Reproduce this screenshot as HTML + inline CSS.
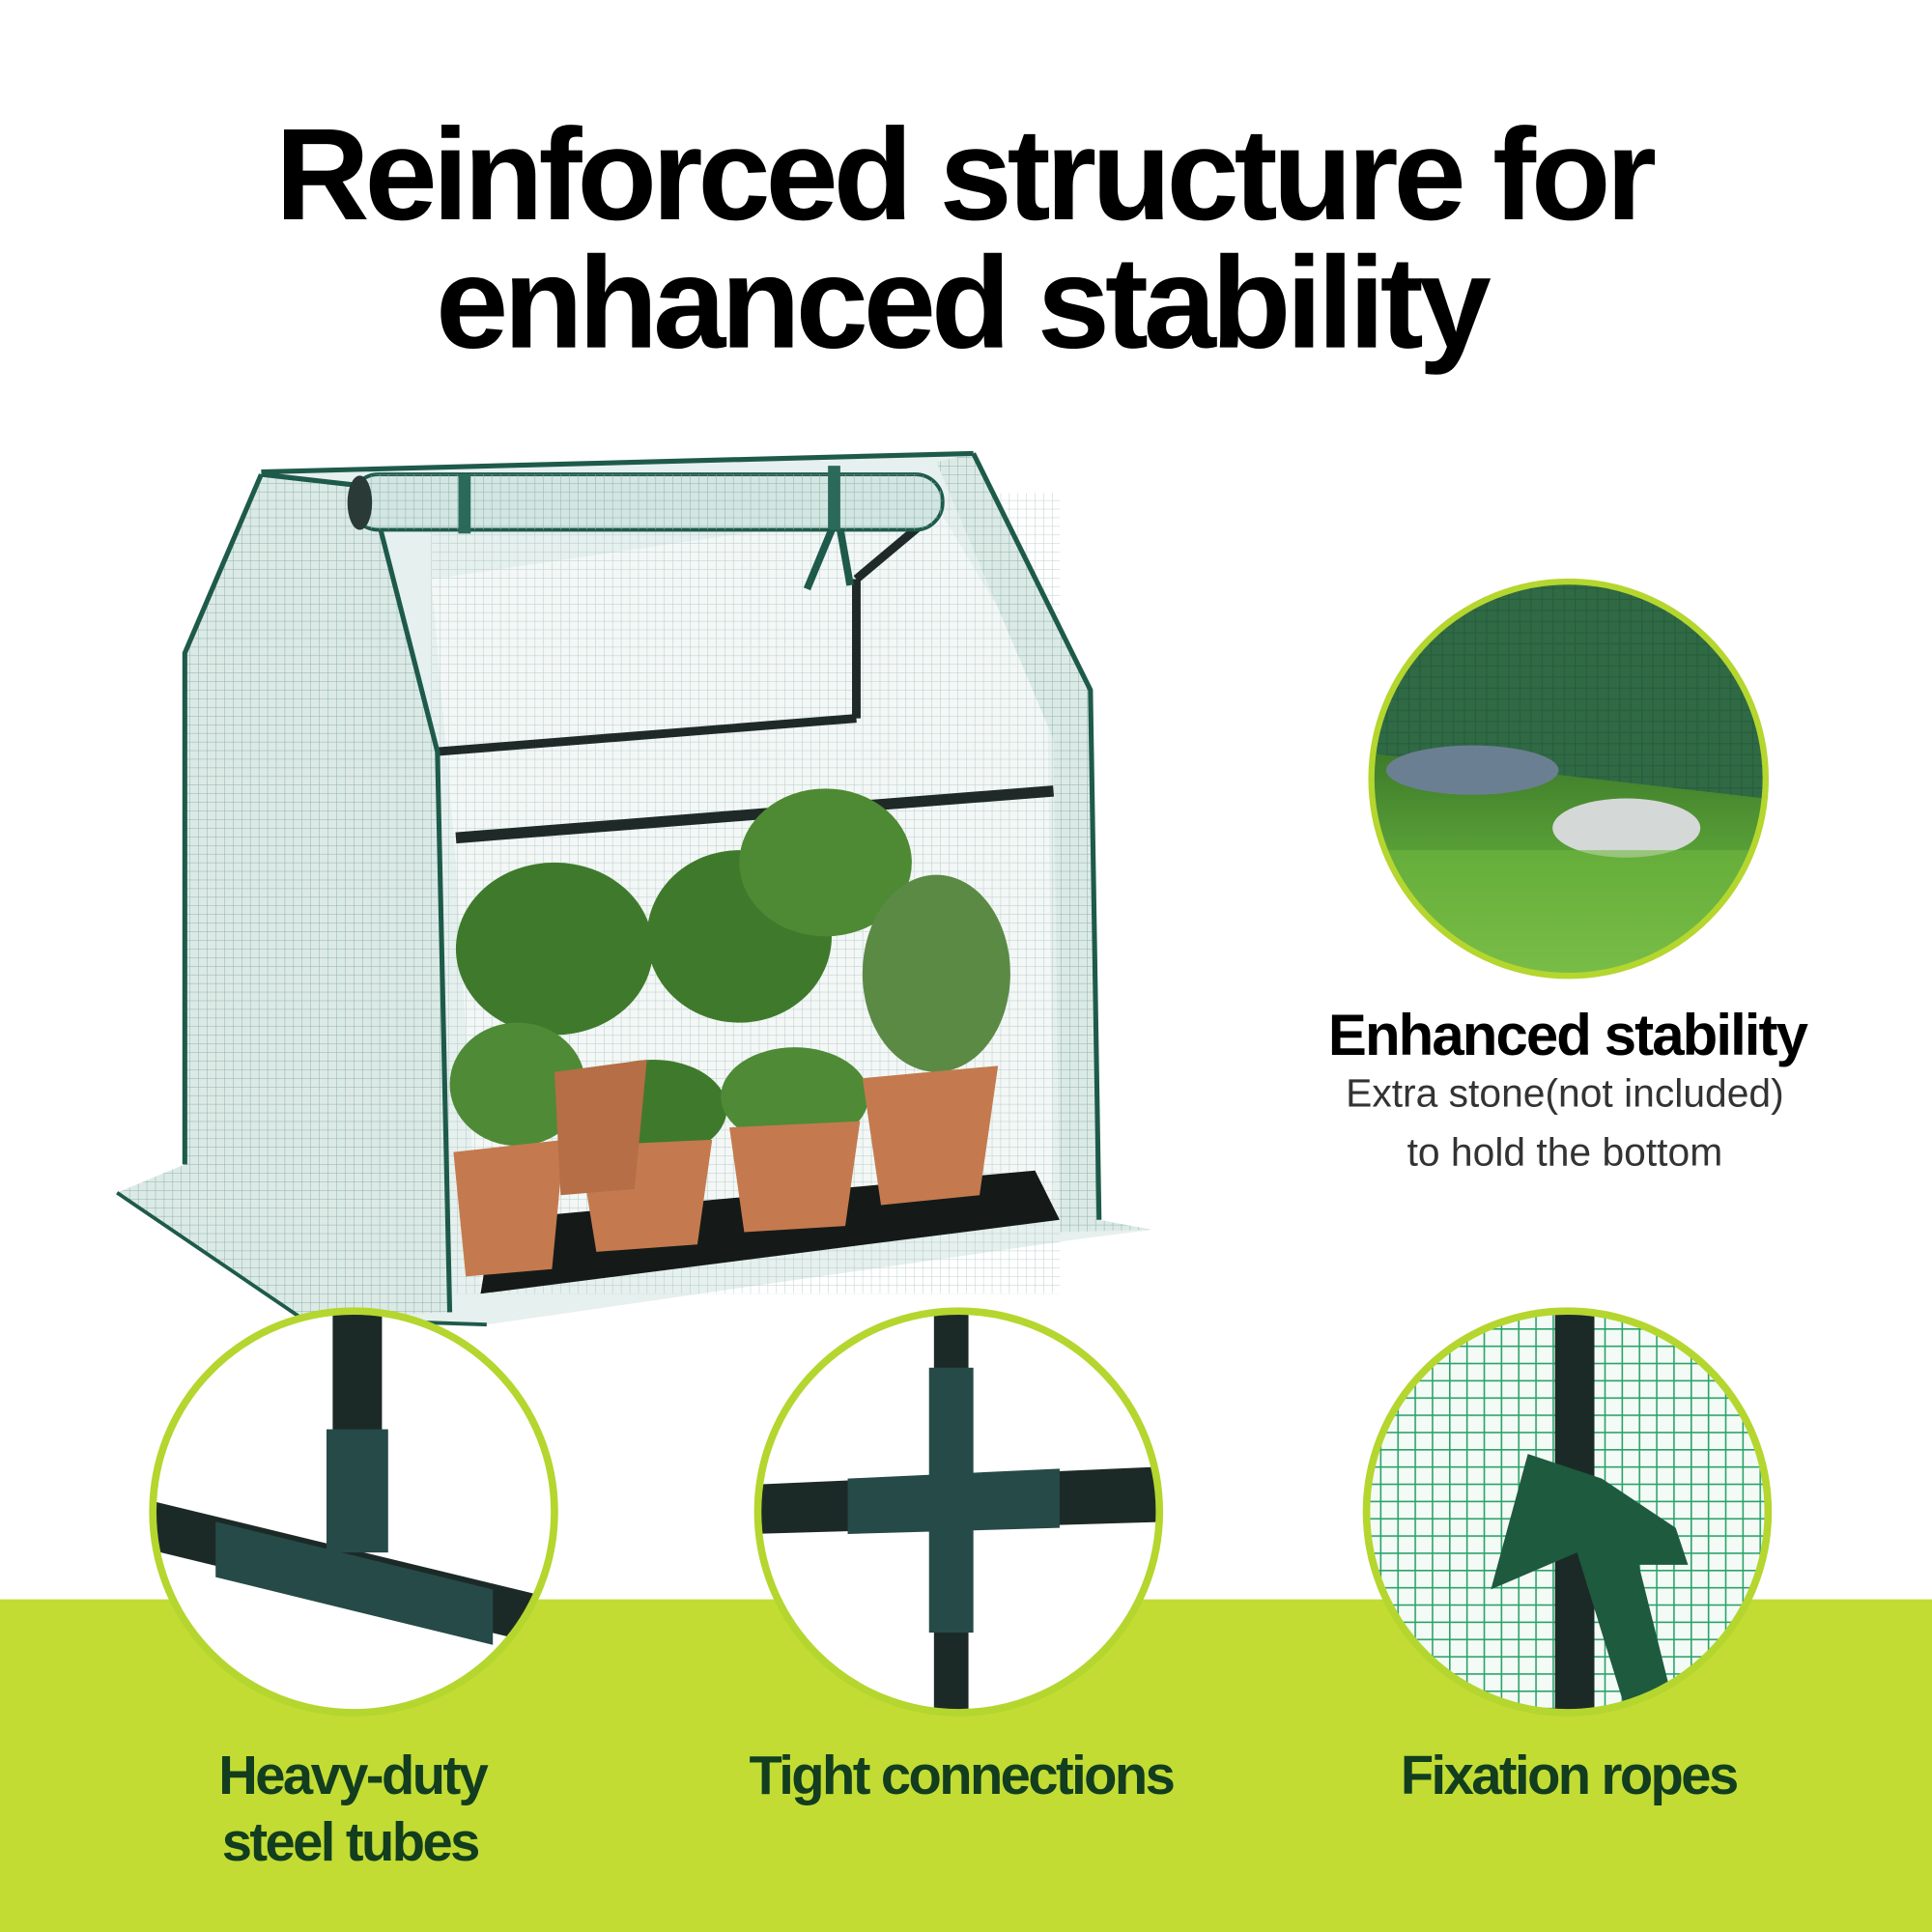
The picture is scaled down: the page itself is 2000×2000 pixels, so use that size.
<!DOCTYPE html>
<html><head><meta charset="utf-8"><style>
html,body{margin:0;padding:0;background:#fff}
svg{display:block}
</style></head><body>
<svg width="2000" height="2000" viewBox="0 0 1568 1568" xmlns="http://www.w3.org/2000/svg">
<defs>
<pattern id="mesh" width="7" height="7" patternUnits="userSpaceOnUse">
<rect width="7" height="7" fill="none"/><path d="M0 0H7M0 0V7" stroke="#8fb3ad" stroke-width="0.8"/>
</pattern>
<pattern id="gmesh" width="14" height="14" patternUnits="userSpaceOnUse">
<rect width="14" height="14" fill="#f4faf6"/><path d="M0 0H14M0 0V14" stroke="#2aa36a" stroke-width="2.5"/>
</pattern>
<pattern id="dmesh" width="9" height="9" patternUnits="userSpaceOnUse">
<rect width="9" height="9" fill="#2f6a45"/><path d="M0 0H9M0 0V9" stroke="#285e3c" stroke-width="2"/>
</pattern>
<linearGradient id="grass" x1="0" y1="0" x2="0" y2="1">
<stop offset="0" stop-color="#3d7a2a"/><stop offset="0.5" stop-color="#5fa83a"/><stop offset="1" stop-color="#8ecb5a"/>
</linearGradient>
<clipPath id="c1"><circle cx="1273" cy="632" r="158"/></clipPath>
<clipPath id="c2"><circle cx="287" cy="1227" r="162"/></clipPath>
<clipPath id="c3"><circle cx="778" cy="1227" r="162"/></clipPath>
<clipPath id="c4"><circle cx="1272" cy="1227" r="162"/></clipPath>
</defs>

<rect x="0" y="1298" width="1568" height="270" fill="#c2dc34"/>

<text x="782" y="178" text-anchor="middle" font-family="Liberation Sans, sans-serif" font-weight="bold" font-size="106" letter-spacing="-4" fill="#000">Reinforced structure for</text>
<text x="780" y="282" text-anchor="middle" font-family="Liberation Sans, sans-serif" font-weight="bold" font-size="106" letter-spacing="-4" fill="#000">enhanced stability</text>

<g>
<polygon points="95,968 150,945 150,530 212,385 790,368 885,560 892,990 935,998 880,1005 395,1075 245,1070" fill="#e6f0ee"/>
<polygon points="350,470 760,410 850,560 855,990 390,1050 370,700" fill="#f3f7f6"/>
<rect x="350" y="400" width="510" height="650" fill="url(#mesh)" opacity="0.6"/>
<line x1="355" y1="610" x2="695" y2="583" stroke="#1f2a28" stroke-width="7"/>
<line x1="695" y1="583" x2="695" y2="470" stroke="#1f2a28" stroke-width="7"/>
<line x1="695" y1="470" x2="745" y2="428" stroke="#1f2a28" stroke-width="7"/>
<line x1="370" y1="680" x2="855" y2="642" stroke="#1f2a28" stroke-width="9"/>
<polygon points="390,1050 860,990 840,950 400,990" fill="#151a18"/>
<g fill="#3f7a2c">
<ellipse cx="450" cy="770" rx="80" ry="70"/>
<ellipse cx="600" cy="760" rx="75" ry="70"/>
<ellipse cx="670" cy="700" rx="70" ry="60" fill="#4d8a33"/>
<ellipse cx="760" cy="790" rx="60" ry="80" fill="#5b8a45"/>
<ellipse cx="420" cy="880" rx="55" ry="50" fill="#4f8a36"/>
<ellipse cx="530" cy="900" rx="60" ry="40"/>
<ellipse cx="645" cy="890" rx="60" ry="40" fill="#4f8a36"/>
</g>
<g fill="#c47a4e">
<polygon points="368,935 458,925 448,1030 378,1036"/>
<polygon points="470,930 578,925 566,1010 484,1016"/>
<polygon points="592,915 698,910 686,995 604,1000"/>
<polygon points="700,875 810,865 795,970 715,978"/>
<polygon points="450,870 525,860 515,965 455,970" fill="#b56e45"/>
</g>
<polygon points="150,945 150,530 212,385 300,395 355,610 365,1065 245,1070 95,968" fill="#dceae6"/>
<polygon points="150,945 150,530 212,385 300,395 355,610 365,1065 245,1070 95,968" fill="url(#mesh)"/>
<path d="M212,385 L300,395 L355,610 L365,1065 M150,945 L150,530 L212,385" stroke="#1e5a4a" stroke-width="4" fill="none"/>
<path d="M95,968 L245,1070 L395,1075" stroke="#1e5a4a" stroke-width="3" fill="none"/>
<polygon points="760,375 790,368 885,560 892,990 935,998 860,1000 855,600" fill="#dceae6"/>
<polygon points="760,375 790,368 885,560 892,990 935,998 860,1000 855,600" fill="url(#mesh)"/>
<path d="M790,368 L885,560 L892,990" stroke="#1e5a4a" stroke-width="4" fill="none"/>
<rect x="285" y="385" width="480" height="45" rx="22" fill="#d3e6e2" stroke="#1e5a4a" stroke-width="3"/>
<rect x="285" y="385" width="480" height="45" rx="22" fill="url(#mesh)"/>
<ellipse cx="292" cy="408" rx="10" ry="22" fill="#2a3a36"/>
<line x1="212" y1="383" x2="790" y2="368" stroke="#1e5a4a" stroke-width="4"/>
<rect x="372" y="385" width="10" height="48" fill="#2b6a5a"/>
<rect x="672" y="378" width="10" height="52" fill="#2b6a5a"/>
<path d="M675,430 L655,478 M682,430 L690,475" stroke="#1e5a4a" stroke-width="6"/>
</g>

<g clip-path="url(#c1)">
<rect x="1100" y="460" width="350" height="350" fill="url(#dmesh)"/>
<polygon points="1100,610 1450,650 1450,810 1100,810" fill="url(#grass)"/>
<ellipse cx="1195" cy="625" rx="70" ry="20" fill="#6b7f92"/>
<ellipse cx="1320" cy="672" rx="60" ry="24" fill="#d4d8d6"/>
<rect x="1100" y="690" width="350" height="120" fill="#6fb840" opacity="0.6"/>
</g>
<circle cx="1273" cy="632" r="160" fill="none" stroke="#b4d62e" stroke-width="5"/>

<text x="1272" y="856" text-anchor="middle" font-family="Liberation Sans, sans-serif" font-weight="bold" font-size="47" letter-spacing="-1.5" fill="#000">Enhanced stability</text>
<text x="1270" y="898" text-anchor="middle" font-family="Liberation Sans, sans-serif" font-size="32" fill="#333">Extra stone(not included)</text>
<text x="1270" y="946" text-anchor="middle" font-family="Liberation Sans, sans-serif" font-size="32" fill="#333">to hold the bottom</text>

<circle cx="287" cy="1227" r="162" fill="#fff"/>
<g clip-path="url(#c2)">
<rect x="270" y="1060" width="40" height="120" fill="#1c2a27"/>
<polygon points="110,1215 440,1295 440,1335 110,1255" fill="#1c2a27"/>
<polygon points="175,1235 400,1290 400,1335 175,1280" fill="#264a47"/>
<rect x="265" y="1160" width="50" height="100" fill="#264a47"/>
</g>
<circle cx="287" cy="1227" r="163" fill="none" stroke="#b4d62e" stroke-width="6"/>

<circle cx="778" cy="1227" r="162" fill="#fff"/>
<g clip-path="url(#c3)">
<polygon points="610,1205 950,1190 950,1235 610,1245" fill="#1c2a27"/>
<rect x="758" y="1060" width="28" height="340" fill="#1c2a27"/>
<rect x="754" y="1110" width="36" height="215" fill="#264a47"/>
<polygon points="688,1200 860,1192 860,1240 688,1245" fill="#264a47"/>
</g>
<circle cx="778" cy="1227" r="163" fill="none" stroke="#b4d62e" stroke-width="6"/>

<g clip-path="url(#c4)">
<rect x="1100" y="1060" width="350" height="340" fill="url(#gmesh)"/>
<rect x="1262" y="1060" width="32" height="340" fill="#1c2a27"/>
<polygon points="1240,1180 1300,1200 1360,1240 1370,1270 1330,1270 1360,1390 1320,1390 1280,1260 1210,1290" fill="#1e5a3e"/>
</g>
<circle cx="1272" cy="1227" r="163" fill="none" stroke="#b4d62e" stroke-width="6"/>

<g font-family="Liberation Sans, sans-serif" font-weight="bold" font-size="44" fill="#123d1e" text-anchor="middle" letter-spacing="-2">
<text x="286" y="1456">Heavy-duty</text>
<text x="284" y="1510">steel tubes</text>
<text x="780" y="1456">Tight connections</text>
<text x="1273" y="1456">Fixation ropes</text>
</g>
</svg>
</body></html>
